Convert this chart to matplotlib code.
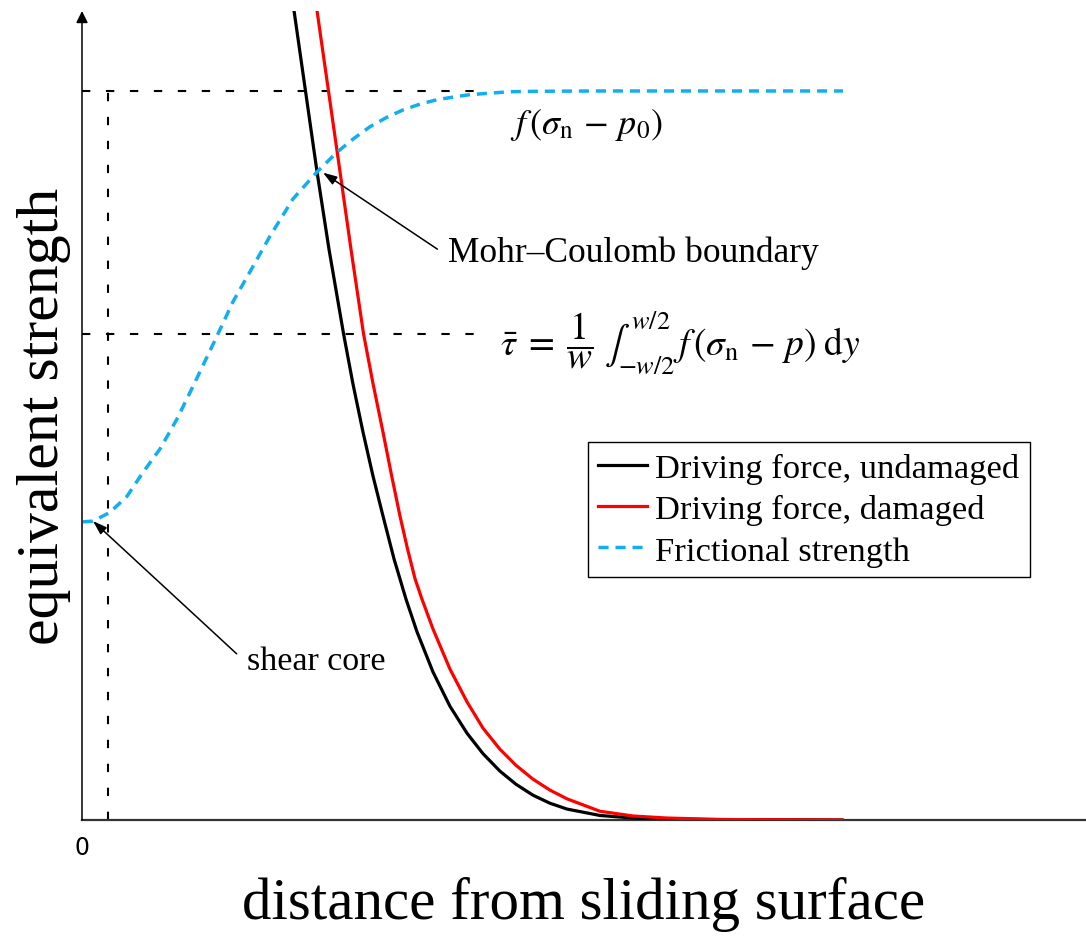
import matplotlib
matplotlib.use("Agg")
import matplotlib.pyplot as plt

# frictional strength (blue dashed)
fric_x = [0.010, 0.110, 0.279, 0.448, 0.608, 0.777, 0.946, 1.106, 1.345, 1.504, 1.673, 1.873,
          2.102, 2.341, 2.540, 2.699, 2.869, 3.038, 3.197, 3.367, 3.536, 3.715, 3.865, 4.064,
          4.263, 4.562, 5.159, 7.580]
fric_y = [0.409, 0.410, 0.422, 0.444, 0.477, 0.509, 0.550, 0.595, 0.664, 0.711, 0.752, 0.801,
          0.852, 0.889, 0.916, 0.934, 0.951, 0.964, 0.974, 0.982, 0.988, 0.992, 0.995, 0.997,
          0.999, 0.9996, 1.0, 1.0]

# driving force, undamaged (black)
und_x = [2.036, 2.112, 2.226, 2.341, 2.460, 2.605, 2.699, 2.799, 2.898, 2.998, 3.108, 3.227,
         3.337, 3.496, 3.665, 3.835, 3.994, 4.163, 4.323, 4.492, 4.661, 4.831, 5.159, 5.488,
         6.155, 7.570]
und_y = [1.188, 1.110, 1.0, 0.889, 0.783, 0.667, 0.598, 0.532, 0.472, 0.417, 0.358, 0.303,
         0.258, 0.203, 0.156, 0.119, 0.091, 0.067, 0.049, 0.034, 0.023, 0.015, 0.0062, 0.0027,
         0.0007, 0.0]

# driving force, damaged (red)
dam_x = [2.261, 2.341, 2.455, 2.570, 2.679, 2.804, 2.898, 2.998, 3.083, 3.167, 3.242, 3.317,
         3.386, 3.496, 3.665, 3.835, 3.994, 4.163, 4.323, 4.492, 4.661, 4.831, 5.159, 5.488,
         5.827, 6.355, 7.570]
dam_y = [1.188, 1.110, 1.0, 0.889, 0.783, 0.667, 0.599, 0.532, 0.473, 0.417, 0.372, 0.331,
         0.303, 0.262, 0.207, 0.162, 0.126, 0.097, 0.075, 0.056, 0.041, 0.029, 0.012, 0.0055,
         0.0027, 0.0007, 0.0]

# dashed guide lines
core_x = 0.256
plateau_y = 1.0
tau_y = 0.667
guide_end = 4.04

legend_labels = ["Driving force, undamaged", "Driving force, damaged", "Frictional strength"]

plt.rcParams['font.family'] = ['Liberation Serif', 'DejaVu Serif']
plt.rcParams['mathtext.fontset'] = 'stix'

fig = plt.figure(figsize=(10.86, 9.37), dpi=100)
ax = fig.add_axes([82 / 1086, 116 / 937, 1004 / 1086, 809 / 937])
ax.set_xlim(0, 10)
ax.set_ylim(0, 1.1097)

blue = '#12aeef'
dash_k = (0, (4, 7.5))

# guide lines
ax.plot([0, guide_end], [plateau_y, plateau_y], color='k', lw=1.5, linestyle=dash_k, zorder=1)
ax.plot([0, guide_end], [tau_y, tau_y], color='k', lw=1.5, linestyle=dash_k, zorder=1)
ax.plot([core_x, core_x], [0, plateau_y], color='k', lw=1.5, linestyle=dash_k, zorder=1)

l1, = ax.plot(und_x, und_y, color='k', lw=2.3, zorder=3, solid_joinstyle='round')
l2, = ax.plot(dam_x, dam_y, color='#ff0000', lw=2.3, zorder=3, solid_joinstyle='round')
l3, = ax.plot(fric_x, fric_y, color=blue, lw=2.5, linestyle=(0, (2.9, 2.0)), zorder=4)

leg = ax.legend([l1, l2, l3], legend_labels, loc='upper left', bbox_to_anchor=(0.504, 0.467),
                borderaxespad=0, fontsize=24.8, frameon=True, fancybox=False, edgecolor='k',
                framealpha=1, handlelength=1.41, handletextpad=0.24, labelspacing=0.3,
                borderpad=0.3)
leg.get_frame().set_linewidth(1.0)

# annotations
ax.text(4.26, 0.955, r'$f\,(\sigma_{\rm n}\,-\,p_0)$', fontsize=26, va='center', ha='left')
ax.text(4.16, 0.655,
        r'$\bar{\tau}\;=\;\dfrac{1}{w}\;\int_{-w/2}^{w/2}\, f\,(\sigma_{\rm n}\,-\,p)\;{\rm d}y$',
        fontsize=27, va='center', ha='left')
ax.text(3.65, 0.779, 'Mohr–Coulomb boundary', fontsize=25.5, va='center', ha='left')
ax.text(1.64, 0.218, 'shear core', fontsize=24.5, va='center', ha='left')

arrow = dict(arrowstyle='-|>,head_length=0.6,head_width=0.2', color='k', lw=1.1,
             mutation_scale=14, shrinkA=0, shrinkB=0)
ax.annotate('', xy=(2.40, 0.888), xytext=(3.54, 0.783), arrowprops=arrow)
ax.annotate('', xy=(0.11, 0.41), xytext=(1.54, 0.228), arrowprops=arrow)

# axes: left arrow, bottom line
for s in ['top', 'right', 'left']:
    ax.spines[s].set_visible(False)
ax.spines['bottom'].set_linewidth(1.6)
ax.spines['bottom'].set_color('#333333')
ax.annotate('', xy=(0, 1), xytext=(0, 0), xycoords='axes fraction',
            arrowprops=dict(arrowstyle='-|>,head_length=0.5,head_width=0.25', color='k',
                            lw=1.1, mutation_scale=14, shrinkA=0, shrinkB=0))

ax.set_yticks([])
ax.set_xticks([0])
ax.set_xticklabels(['0'], fontfamily='DejaVu Sans', fontsize=17)
ax.tick_params(axis='x', length=0, pad=11)

ax.set_xlabel('distance from sliding surface', fontsize=42.5, labelpad=12)
ax.set_ylabel('equivalent strength', fontsize=43, labelpad=8)

fig.savefig('out.png', dpi=100)
